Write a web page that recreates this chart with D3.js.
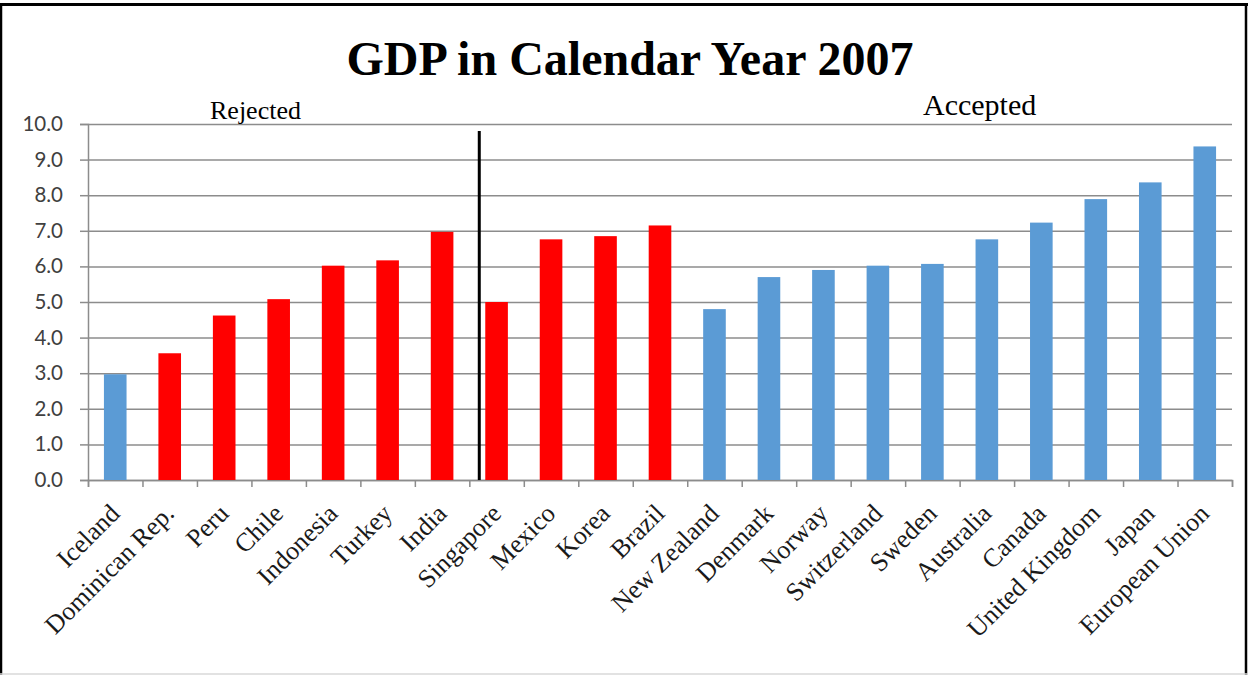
<!DOCTYPE html>
<html>
<head>
<meta charset="utf-8">
<script src="https://cdn.jsdelivr.net/npm/d3@7"></script>
<style>
  html, body { margin: 0; padding: 0; background: #fff; }
  svg { display: block; }
</style>
</head>
<body>
<svg id="chart" width="1248" height="675"></svg>
<script>
const categories = ["Iceland", "Dominican Rep.", "Peru", "Chile", "Indonesia", "Turkey", "India",
  "Singapore", "Mexico", "Korea", "Brazil", "New Zealand", "Denmark", "Norway", "Switzerland",
  "Sweden", "Australia", "Canada", "United Kingdom", "Japan", "European Union"];
const gdpValues = [2.97, 3.56, 4.62, 5.08, 6.02, 6.17, 6.97,
  5.00, 6.76, 6.85, 7.15, 4.80, 5.70, 5.90, 6.02,
  6.07, 6.76, 7.23, 7.89, 8.36, 9.37];
const groups = ["blue", "red", "red", "red", "red", "red", "red",
  "red", "red", "red", "red", "blue", "blue", "blue", "blue",
  "blue", "blue", "blue", "blue", "blue", "blue"];
const yTicks = [0, 1, 2, 3, 4, 5, 6, 7, 8, 9, 10];
const titleText = "GDP in Calendar Year 2007";
const sideLabels = ["Rejected", "Accepted"];

const colorMap = { red: "#FF0000", blue: "#5B9BD5" };

const W = 1248, H = 675;
const plot = { left: 88, right: 1232, top: 124, bottom: 480 };
const svg = d3.select("#chart");

// frame
svg.append("rect").attr("x", 0).attr("y", 0).attr("width", W).attr("height", H).attr("fill", "#fff");
svg.append("line").attr("x1", 0).attr("x2", W).attr("y1", 4.5).attr("y2", 4.5).attr("stroke", "#000").attr("stroke-width", 3);
svg.append("line").attr("x1", 1).attr("x2", 1).attr("y1", 3).attr("y2", 675).attr("stroke", "#000").attr("stroke-width", 2.5);
svg.append("line").attr("x1", 1246).attr("x2", 1246).attr("y1", 3).attr("y2", 675).attr("stroke", "#000").attr("stroke-width", 2.5);
svg.append("line").attr("x1", 0).attr("x2", W).attr("y1", 674).attr("y2", 674).attr("stroke", "#d9d9d9").attr("stroke-width", 1.5);

const x = d3.scaleBand().domain(categories).range([plot.left, plot.right]).paddingInner(0.585).paddingOuter(0.2925);
const xTickScale = d3.scaleLinear().domain([0, categories.length]).range([plot.left, plot.right]);
const y = d3.scaleLinear().domain([0, 10]).range([plot.bottom, plot.top]);

// gridlines
const grid = svg.append("g")
  .attr("transform", `translate(${plot.left},0)`)
  .call(d3.axisLeft(y).tickValues(yTicks).tickSize(-(plot.right - plot.left)).tickFormat(""));
grid.select(".domain").remove();
grid.selectAll("line").attr("stroke", "#8c8c8c").attr("stroke-width", 1.5);

// y axis
const yAxis = svg.append("g")
  .attr("transform", `translate(${plot.left},0)`)
  .call(d3.axisLeft(y).tickValues(yTicks).tickSize(8).tickPadding(17).tickFormat(d3.format(".1f")));
yAxis.select(".domain").attr("stroke", "#8c8c8c").attr("stroke-width", 1.5);
yAxis.selectAll("line").attr("stroke", "#8c8c8c").attr("stroke-width", 1.5);
yAxis.selectAll("text")
  .attr("font-family", "Lato, 'Open Sans', sans-serif")
  .attr("font-size", 20.5)
  .attr("fill", "#404040");

// x axis ticks (boundaries between categories)
const xAxis = svg.append("g")
  .attr("transform", `translate(0,${plot.bottom})`)
  .call(d3.axisBottom(xTickScale).tickValues(d3.range(categories.length + 1)).tickSize(7).tickFormat(""));
xAxis.select(".domain").attr("stroke", "#8c8c8c").attr("stroke-width", 1.5);
xAxis.selectAll("line").attr("stroke", "#8c8c8c").attr("stroke-width", 1.5);

// bars
svg.append("g").selectAll("rect")
  .data(categories)
  .join("rect")
  .attr("x", d => x(d))
  .attr("width", x.bandwidth())
  .attr("y", (d, i) => y(gdpValues[i]))
  .attr("height", (d, i) => y(0) - y(gdpValues[i]))
  .attr("fill", (d, i) => colorMap[groups[i]]);

// category labels
svg.append("g").selectAll("text")
  .data(categories)
  .join("text")
  .attr("transform", d => `translate(${x(d) + x.bandwidth() / 2 + 6},515) rotate(-45)`)
  .attr("text-anchor", "end")
  .attr("font-family", "'Liberation Serif', 'Times New Roman', serif")
  .attr("font-size", 26)
  .attr("fill", "#1a1a1a")
  .text(d => d);

// divider line
const divX = x("Singapore") - x.step() * 0.11;
svg.append("line")
  .attr("x1", divX).attr("x2", divX)
  .attr("y1", y(9.8)).attr("y2", y(0))
  .attr("stroke", "#000").attr("stroke-width", 3);

// title
svg.append("text")
  .attr("x", 630).attr("y", 75)
  .attr("text-anchor", "middle")
  .attr("font-family", "'Liberation Serif', 'Times New Roman', serif")
  .attr("font-weight", "bold")
  .attr("font-size", 48)
  .attr("fill", "#000")
  .text(titleText);

// side labels
svg.append("text")
  .attr("x", 210).attr("y", 119)
  .attr("font-family", "'Liberation Serif', 'Times New Roman', serif")
  .attr("font-size", 26)
  .attr("fill", "#000")
  .text(sideLabels[0]);
svg.append("text")
  .attr("x", 923).attr("y", 115)
  .attr("font-family", "'Liberation Serif', 'Times New Roman', serif")
  .attr("font-size", 30)
  .attr("fill", "#000")
  .text(sideLabels[1]);
</script>
</body>
</html>
